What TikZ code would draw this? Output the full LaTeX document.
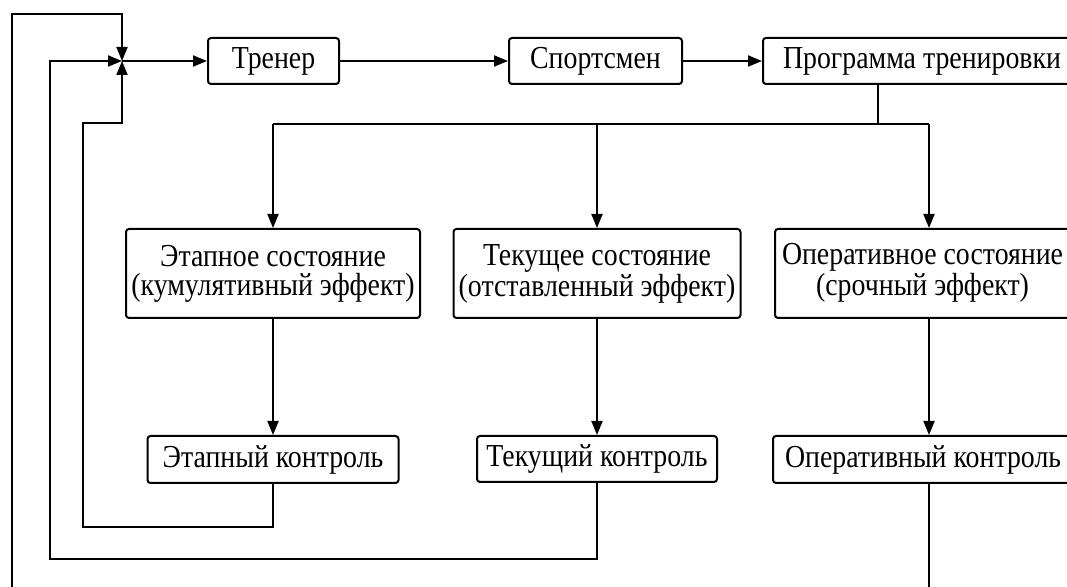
\documentclass[tikz,border=0pt]{standalone}
\usepackage{fontspec}
\setmainfont{Liberation Serif}[FakeStretch=0.87]
\usetikzlibrary{calc,arrows.meta}

\begin{document}
\begin{tikzpicture}[x=0.5pt,y=-0.5pt,line width=1pt,
  box/.style={draw,rounded corners=1.5pt,inner sep=0pt,minimum height=23pt,
    font=\fontsize{16}{14.5}\selectfont,align=center},
  sbox/.style={box,minimum height=44.5pt},
  rbox/.style={box,anchor=west},
  arr/.style={-{Triangle[length=7pt,width=5.5pt]}}]
\clip (0,0) rectangle (1067,587);
\coordinate (J) at (122,61);
\coordinate (bus) at (878,124);
\coordinate (oc) at (929,0);

\node[box,minimum width=65.5pt] (trener) at (273.5,61) {Тренер};
\node[box,minimum width=86.5pt] (sportsmen) at (595.5,61) {Спортсмен};
\node[rbox,inner xsep=10pt] (programma) at (762,61)
  {\makebox[160pt][l]{Программа тренировки}};

\node[sbox,minimum width=147pt] (etapSost) at (273,273.5)
  {Этапное состояние\\(кумулятивный эффект)};
\node[sbox,minimum width=143.5pt] (tekSost) at (597,273.5)
  {Текущее состояние\\(отставленный эффект)};
\node[rbox,minimum height=44.5pt,inner xsep=3.5pt] (operSost) at (774,273.5)
  {\makebox[160pt][l]{\begin{tabular}{@{}c@{}}Оперативное состояние\\(срочный эффект)\end{tabular}}};

\node[box,minimum width=125.5pt,minimum height=23.5pt] (etapKontr) at (273,459.5) {Этапный контроль};
\node[box,minimum width=120pt] (tekKontr) at (597,459) {Текущий контроль};
\node[rbox,minimum height=23.5pt,inner xsep=6pt] (operKontr) at (772,459.5)
  {\makebox[160pt][l]{Оперативный контроль}};

\draw[arr] (J) -- (trener);
\draw[arr] (trener) -- (sportsmen);
\draw[arr] (sportsmen) -- (programma);

\draw (programma.south -| bus) -- (bus);
\draw (etapSost.north |- bus) -- (oc |- bus);
\draw[arr] (etapSost.north |- bus) -- (etapSost.north);
\draw[arr] (tekSost.north |- bus) -- (tekSost.north);
\draw[arr] (oc |- bus) -- (oc |- operSost.north);

\draw[arr] (etapSost) -- (etapKontr);
\draw[arr] (tekSost) -- (tekKontr);
\draw[arr] (oc |- operSost.south) -- (oc |- operKontr.north);

\draw[arr] (etapKontr.south) |- (83,527) |- (122,123) -- (J);
\draw[arr] (tekKontr.south) |- (50,559) |- (J);
\draw[arr] (oc |- operKontr.south) -- (929,620) -| (12,14) -| (J);
\end{tikzpicture}
\end{document}
